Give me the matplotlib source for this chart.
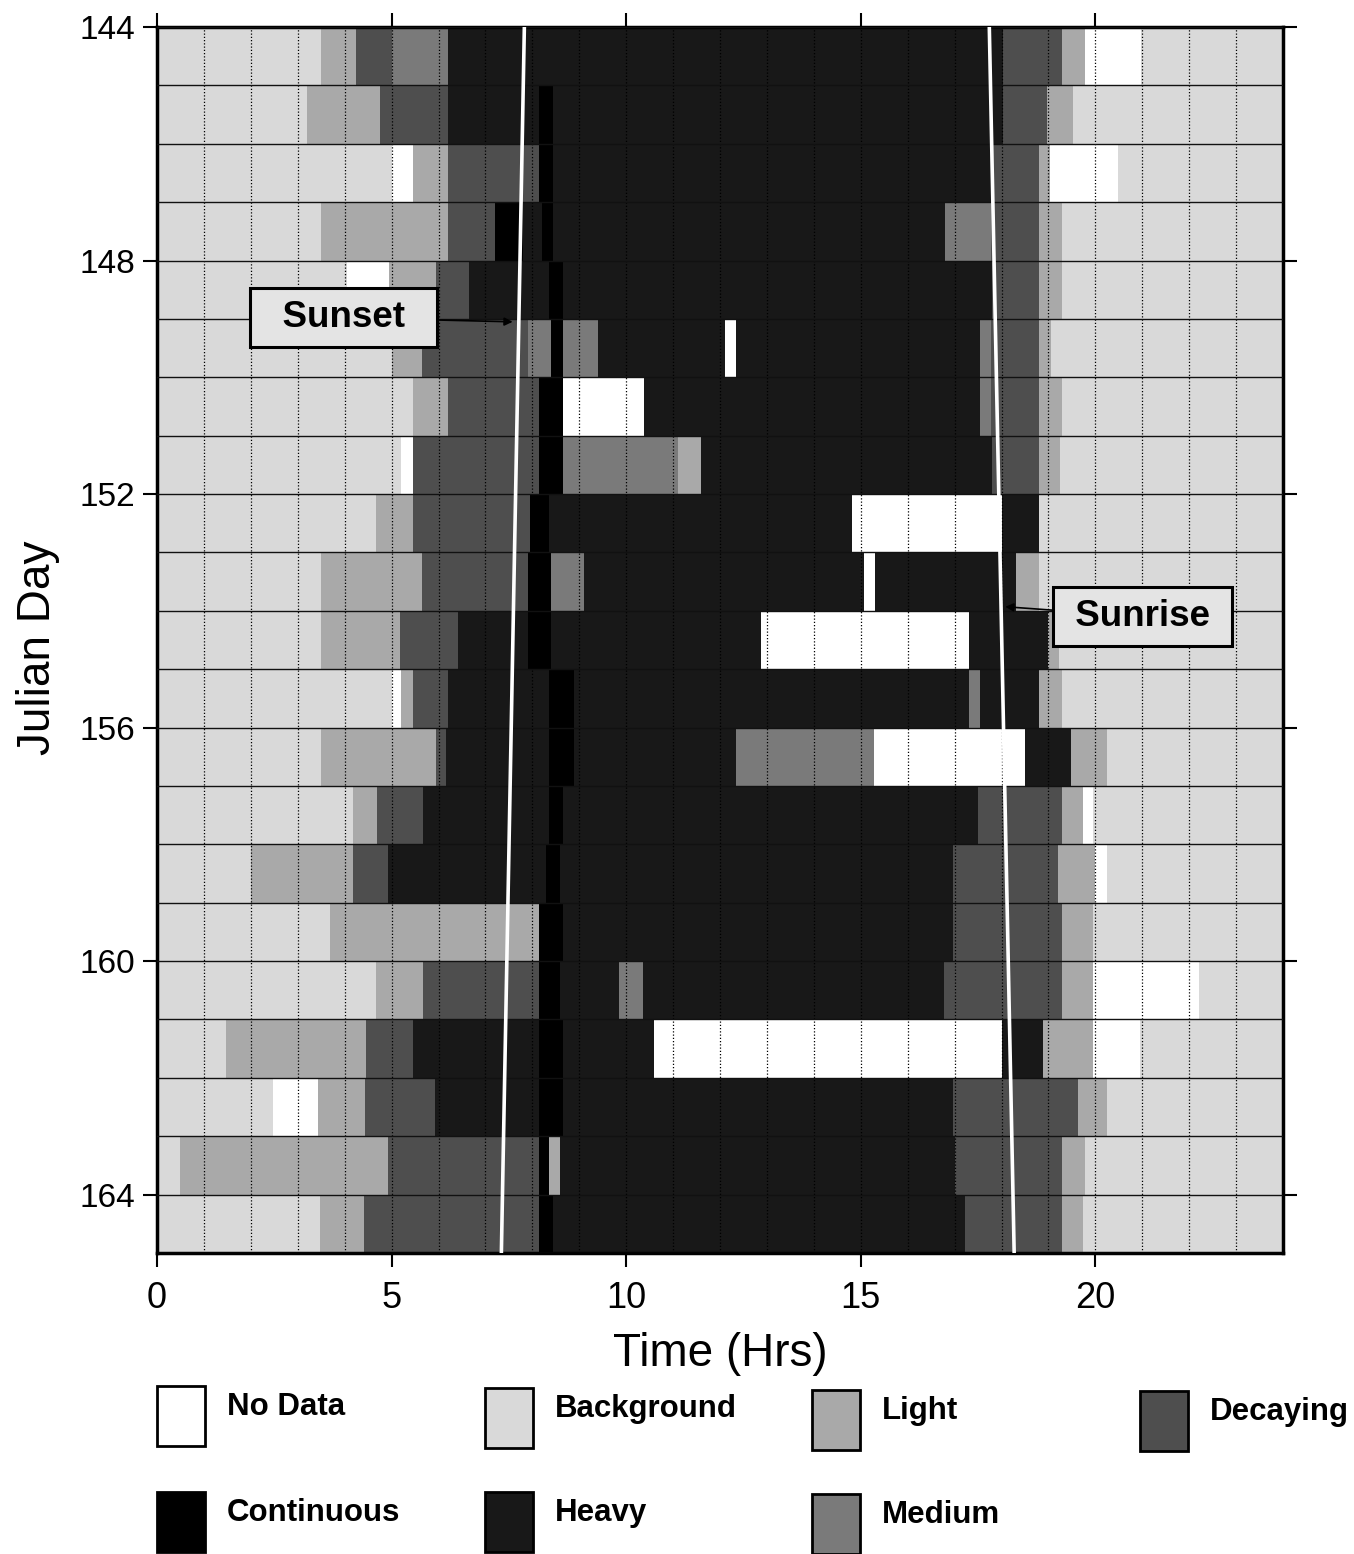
import matplotlib
matplotlib.use("Agg")
import matplotlib.pyplot as plt
from matplotlib.patches import Rectangle
from matplotlib.ticker import MultipleLocator

plt.rcParams['font.family'] = ['Liberation Sans', 'DejaVu Sans']

# ---------------- data ----------------
# category codes and legend
cat_codes = ["N", "B", "L", "D", "C", "H", "M"]
cat_names = ["No Data", "Background", "Light", "Decaying", "Continuous", "Heavy", "Medium"]
cat_colors = ["#ffffff", "#d9d9d9", "#a9a9a9", "#4e4e4e", "#000000", "#181818", "#7a7a7a"]

# each day: list of (category, end hour); segments start where previous ended
day144 = [("B", 3.5), ("L", 4.25), ("D", 5.0), ("M", 6.2), ("H", 18.04), ("D", 19.28), ("L", 19.78), ("N", 20.98), ("B", 24)]
day145 = [("B", 3.2), ("L", 4.75), ("D", 6.2), ("H", 8.15), ("C", 8.45), ("H", 18.04), ("D", 18.97), ("L", 19.53), ("B", 24)]
day146 = [("B", 5.0), ("N", 5.45), ("L", 6.2), ("D", 8.15), ("C", 8.45), ("H", 17.8), ("D", 18.79), ("L", 19.03), ("N", 20.49), ("B", 24)]
day147 = [("B", 3.5), ("L", 6.2), ("D", 7.2), ("C", 7.8), ("H", 8.2), ("C", 8.45), ("H", 16.8), ("M", 17.77), ("D", 18.79), ("L", 19.28), ("B", 24)]
day148 = [("B", 4.05), ("N", 4.95), ("L", 5.95), ("D", 6.65), ("H", 8.36), ("C", 8.65), ("H", 17.8), ("D", 18.79), ("L", 19.28), ("B", 24)]
day149 = [("B", 5.0), ("L", 5.65), ("D", 7.9), ("M", 8.4), ("C", 8.65), ("M", 9.4), ("H", 12.1), ("N", 12.35), ("H", 17.55), ("M", 17.77), ("D", 18.8), ("L", 19.05), ("B", 24)]
day150 = [("B", 5.45), ("L", 6.2), ("D", 8.15), ("C", 8.65), ("N", 10.38), ("H", 17.55), ("M", 17.77), ("D", 18.79), ("L", 19.28), ("B", 24)]
day151 = [("B", 5.2), ("N", 5.45), ("D", 8.15), ("C", 8.65), ("M", 11.1), ("L", 11.6), ("H", 17.8), ("D", 18.79), ("L", 19.25), ("B", 24)]
day152 = [("B", 4.67), ("L", 5.45), ("D", 7.94), ("C", 8.36), ("H", 14.82), ("N", 18.0), ("H", 18.8), ("B", 24)]
day153 = [("B", 3.5), ("L", 5.65), ("D", 7.9), ("C", 8.4), ("M", 9.1), ("H", 15.06), ("N", 15.31), ("H", 18.3), ("L", 18.8), ("B", 24)]
day154 = [("B", 3.5), ("L", 5.17), ("D", 6.41), ("H", 7.9), ("C", 8.4), ("H", 12.87), ("N", 17.3), ("H", 19.0), ("L", 19.22), ("B", 24)]
day155 = [("B", 5.0), ("N", 5.2), ("L", 5.45), ("D", 6.2), ("H", 8.36), ("C", 8.89), ("H", 17.3), ("M", 17.55), ("H", 18.79), ("L", 19.28), ("B", 24)]
day156 = [("B", 3.5), ("L", 5.95), ("D", 6.16), ("H", 8.36), ("C", 8.89), ("H", 12.34), ("M", 15.28), ("N", 18.5), ("H", 19.49), ("L", 20.24), ("B", 24)]
day157 = [("B", 4.18), ("L", 4.68), ("D", 5.67), ("H", 8.36), ("C", 8.65), ("H", 17.5), ("D", 19.28), ("L", 19.74), ("N", 19.96), ("B", 24)]
day158 = [("B", 2.0), ("L", 4.18), ("D", 4.92), ("H", 8.3), ("C", 8.6), ("H", 16.97), ("D", 19.2), ("L", 20.0), ("N", 20.24), ("B", 24)]
day159 = [("B", 3.68), ("L", 8.15), ("C", 8.65), ("H", 16.97), ("D", 19.28), ("L", 19.96), ("B", 24)]
day160 = [("B", 4.67), ("L", 5.67), ("D", 8.15), ("C", 8.6), ("H", 9.85), ("M", 10.35), ("H", 16.77), ("D", 19.28), ("L", 19.96), ("N", 22.2), ("B", 24)]
day161 = [("B", 1.48), ("L", 4.46), ("D", 5.45), ("H", 8.15), ("C", 8.65), ("H", 10.6), ("N", 18.0), ("H", 18.88), ("L", 19.96), ("N", 20.95), ("B", 24)]
day162 = [("B", 2.48), ("N", 3.43), ("L", 4.43), ("D", 5.92), ("H", 8.15), ("C", 8.65), ("H", 16.97), ("D", 19.63), ("L", 20.24), ("B", 24)]
day163 = [("B", 0.49), ("L", 4.92), ("D", 8.15), ("C", 8.36), ("L", 8.6), ("H", 17.0), ("D", 19.28), ("L", 19.78), ("B", 24)]
day164 = [("B", 3.47), ("L", 4.42), ("D", 8.15), ("C", 8.45), ("H", 17.22), ("D", 19.28), ("L", 19.74), ("B", 24)]

days = list(range(144, 165))
day_rows = [day144, day145, day146, day147, day148, day149, day150, day151, day152, day153,
            day154, day155, day156, day157, day158, day159, day160, day161, day162, day163, day164]

# sunset / sunrise lines (hour at first and last day edge)
sun_days = [144, 165]
sunset_hr = [7.83, 7.34]
sunrise_hr = [17.74, 18.27]

x_ticks = [0, 5, 10, 15, 20]
y_ticks = [144, 148, 152, 156, 160, 164]

# ---------------- figure ----------------
W, H = 1354, 1554
fig = plt.figure(figsize=(W / 100, H / 100), dpi=100)
ax = fig.add_axes([157 / W, 1 - 1253 / H, (1283 - 157) / W, (1253 - 27) / H])

color_of = dict(zip(cat_codes, cat_colors))
for day, row in zip(days, day_rows):
    start = 0.0
    lefts, widths, cols = [], [], []
    for code, end in row:
        lefts.append(start)
        widths.append(end - start)
        cols.append(color_of[code])
        start = end
    ax.barh([day + 0.5] * len(lefts), widths, left=lefts, height=1.0,
            color=cols, linewidth=0, zorder=1)

ax.set_xlim(0, 24)
ax.set_ylim(165, 144)

# grid: dotted hourly verticals, solid day boundaries
ax.xaxis.set_minor_locator(MultipleLocator(1))
ax.yaxis.set_minor_locator(MultipleLocator(1))
ax.grid(which='both', axis='x', color='black', lw=0.9, ls=(0, (1, 1.6)), zorder=2)
ax.grid(which='both', axis='y', color='#111111', lw=1.0, ls='-', zorder=2)
ax.set_axisbelow(False)

ax.plot(sunset_hr, sun_days, color='white', lw=2.6, zorder=4, solid_capstyle='butt')
ax.plot(sunrise_hr, sun_days, color='white', lw=2.6, zorder=4, solid_capstyle='butt')

ax.set_xticks(x_ticks)
ax.set_yticks(y_ticks)
ax.tick_params(which='major', direction='out', length=10, width=1.5,
               top=True, right=True)
ax.tick_params(axis='x', which='major', labelsize=26, pad=10)
ax.tick_params(axis='y', which='major', labelsize=24, pad=6)
ax.tick_params(which='minor', length=0)
for s in ax.spines.values():
    s.set_linewidth(2.5)

ax.set_xlabel('Time (Hrs)', fontsize=33, labelpad=12)
ax.set_ylabel('Julian Day', fontsize=33)
ax.yaxis.set_label_coords((60 - 157) / 1126, 1 - (648 - 27) / 1226)

# annotations
box = dict(boxstyle='square,pad=0.32', facecolor='#e4e4e4', edgecolor='black', lw=2.2)
ax.annotate('  Sunset  ', xy=(7.58, 149.05), xytext=(3.98, 148.98),
            fontsize=26.5, fontweight='bold', ha='center', va='center', bbox=box,
            arrowprops=dict(arrowstyle='-|>', color='black', lw=1.2, mutation_scale=12,
                            shrinkA=0, shrinkB=0), zorder=6)
ax.annotate(' Sunrise ', xy=(18.08, 153.93), xytext=(21.0, 154.1),
            fontsize=26.5, fontweight='bold', ha='center', va='center', bbox=box,
            arrowprops=dict(arrowstyle='-|>', color='black', lw=1.2, mutation_scale=12,
                            shrinkA=0, shrinkB=0), zorder=6)

# legend (manual layout: 4 columns, 2 rows)
leg_box_x = [157, 485, 812, 1140, 157, 485, 812]
leg_box_y = [1386, 1388, 1390, 1391, 1492, 1492, 1494]
for i, (name, col) in enumerate(zip(cat_names, cat_colors)):
    bx, by = leg_box_x[i], leg_box_y[i]
    fig.add_artist(Rectangle((bx / W, 1 - (by + 60) / H), 48 / W, 60 / H,
                             transform=fig.transFigure, facecolor=col,
                             edgecolor='black', lw=2))
    fig.text((bx + 70) / W, 1 - (by + 21) / H, name, fontsize=22.5,
             fontweight='bold', va='center', ha='left')

fig.savefig('out.png', dpi=100)
